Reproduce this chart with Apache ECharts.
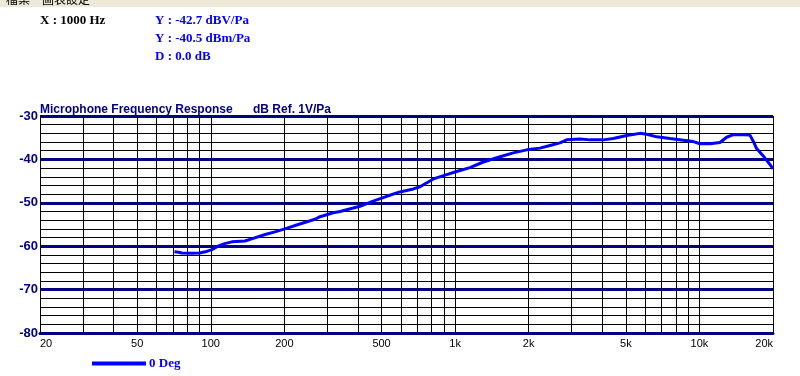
<!DOCTYPE html>
<html>
<head>
<meta charset="utf-8">
<script src="https://cdn.jsdelivr.net/npm/echarts@6/dist/echarts.min.js"></script>
<style>
html,body{margin:0;padding:0;background:#fff;}
#chart{width:800px;height:376px;}
</style>
</head>
<body>
<div id="chart"></div>
<script>
// ---- data ----
const freqHz = [71,74,76,84,90,95,101,107,114,122,138,147,167,183,201,228,267,280,317,338,
  408,462,525,594,675,718,815,924,1014,1150,1304,1527,1730,1964,2224,2445,2687,2862,3245,3566,
  4040,4440,5035,5710,6080,6685,7575,8590,9440,10050,11040,12140,12920,13770,15100,16100,16600,17140,18240,19450,20000];
const responseDb = [-61.3,-61.4,-61.55,-61.6,-61.55,-61.3,-60.8,-60.0,-59.4,-59.0,-58.8,-58.3,-57.3,-56.7,-56.0,-55.0,-53.8,-53.2,-52.3,-52.0,
  -50.8,-49.6,-48.5,-47.5,-46.8,-46.3,-44.5,-43.5,-42.8,-41.9,-40.6,-39.4,-38.5,-37.8,-37.4,-36.8,-36.2,-35.5,-35.3,-35.5,
  -35.5,-35.2,-34.5,-34.0,-34.2,-34.8,-35.2,-35.6,-35.9,-36.4,-36.4,-36.1,-34.9,-34.3,-34.3,-34.4,-35.8,-37.5,-39.2,-41.2,-42.2];
const seriesName = '0 Deg';
const xGridFreqs = [20,30,40,50,60,70,80,90,100,200,300,400,500,600,700,800,900,
  1000,2000,3000,4000,5000,6000,7000,8000,9000,10000,20000];
const xTickValues = [20,50,100,200,500,1000,2000,5000,10000,20000];
const xTickLabels = ['20','50','100','200','500','1k','2k','5k','10k','20k'];
const yMin = -80, yMax = -30, yStep = 10;
const titleText = 'Microphone Frequency Response';
const unitText = 'dB Ref. 1V/Pa';
const infoX = 'X : 1000 Hz';
const infoY = ['Y : -42.7 dBV/Pa', 'Y : -40.5 dBm/Pa', 'D : 0.0 dB'];
const menuItems = ['檔案', '圖表設定'];

// ---- chart ----
const chart = echarts.init(document.getElementById('chart'), null, {renderer: 'canvas'});
const pairs = freqHz.map((f, i) => [f, responseDb[i]]);

const vLines = xGridFreqs.map(f => {
  const idx = xTickValues.indexOf(f);
  const item = {xAxis: f};
  if (idx >= 0) {
    item.label = {
      show: true,
      formatter: xTickLabels[idx],
      align: idx === 0 ? 'left' : (idx === xTickValues.length - 1 ? 'right' : 'center')
    };
  } else {
    item.label = {show: false};
  }
  return item;
});

const serifBold = {fontFamily: '"Liberation Serif", "DejaVu Serif", serif', fontWeight: 'bold', fontSize: 13};
const infoFont = 'bold 13px "Liberation Serif", serif';

const option = {
  backgroundColor: '#ffffff',
  animation: false,
  grid: {left: 40, right: 27, top: 116, bottom: 43},
  xAxis: {
    type: 'log', logBase: 10, min: 20, max: 20000,
    axisLine: {show: true, onZero: false, lineStyle: {color: '#000080', width: 3}},
    axisTick: {show: false},
    axisLabel: {show: false},
    splitLine: {show: false}
  },
  yAxis: {
    type: 'value', min: yMin, max: yMax, interval: yStep,
    axisLine: {show: true, lineStyle: {color: '#000000', width: 1}},
    axisTick: {show: false},
    axisLabel: {color: '#000080', fontWeight: 'bold', fontSize: 13, fontFamily: '"Liberation Sans", Arial, sans-serif', margin: 2},
    splitLine: {show: true, lineStyle: {color: '#000080', width: 3}},
    minorTick: {show: false, splitNumber: 5},
    minorSplitLine: {show: true, lineStyle: {color: '#000000', width: 1}}
  },
  legend: {
    data: [seriesName],
    left: 92, top: 357, padding: 0,
    icon: 'rect', itemWidth: 54, itemHeight: 4, itemGap: 10,
    textStyle: Object.assign({color: '#0000ff', padding: [0,0,0,-2]}, serifBold)
  },
  graphic: [
    {type: 'rect', left: 0, top: 0, shape: {width: 800, height: 7}, style: {fill: '#ece9d8'}, z: 10},
    {type: 'text', left: 6, top: -7, style: {text: menuItems[0], fill: '#000', font: '12px "Noto Sans CJK TC"'}, z: 11},
    {type: 'text', left: 42, top: -7, style: {text: menuItems[1], fill: '#000', font: '12px "Noto Sans CJK TC"'}, z: 11},
    {type: 'text', left: 40, top: 14, style: {text: infoX, fill: '#000', font: infoFont}},
    {type: 'text', left: 155, top: 14, style: {text: infoY[0], fill: '#0000ff', font: infoFont}},
    {type: 'text', left: 155, top: 32, style: {text: infoY[1], fill: '#0000ff', font: infoFont}},
    {type: 'text', left: 155, top: 50, style: {text: infoY[2], fill: '#0000ff', font: infoFont}},
    {type: 'text', left: 40, top: 104, style: {text: titleText, fill: '#000080', font: 'bold 12px "Liberation Sans", Arial, sans-serif'}},
    {type: 'text', left: 253, top: 104, style: {text: unitText, fill: '#000080', font: 'bold 12px "Liberation Sans", Arial, sans-serif'}}
  ],
  series: [
    {
      name: 'grid', type: 'line', data: [], z: 1, silent: true,
      markLine: {
        silent: true, symbol: ['none', 'none'], animation: false,
        lineStyle: {color: '#000000', width: 1, type: 'solid'},
        label: {position: 'start', distance: 5, color: '#000000', fontSize: 11, fontFamily: '"Liberation Sans", Arial, sans-serif'},
        emphasis: {disabled: true},
        data: vLines
      }
    },
    {
      name: seriesName, type: 'line', data: pairs, z: 5,
      showSymbol: false, symbol: 'none', smooth: false,
      lineStyle: {color: '#0000ff', width: 3},
      itemStyle: {color: '#0000ff'}
    }
  ]
};
chart.setOption(option);
</script>
</body>
</html>
